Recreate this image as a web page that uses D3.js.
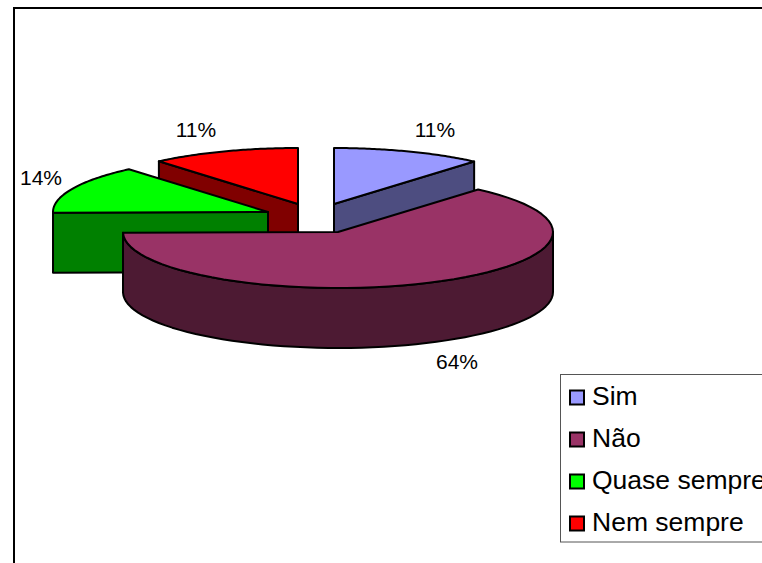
<!DOCTYPE html>
<html><head><meta charset="utf-8">
<style>html,body{margin:0;padding:0;background:#fff;overflow:hidden}svg{display:block}text{font-family:"Liberation Sans",Arial,sans-serif;fill:#000}</style>
<script src="https://cdn.jsdelivr.net/npm/d3@7/dist/d3.min.js"></script>
</head><body><svg id="c" width="762" height="563"></svg>
<script>
const categories = ["Sim","Não","Quase sempre","Nem sempre"];
const values = [11.3,63.5,14,11.2];
const percentLabels = ["11%","64%","14%","11%"];
const topColors = ["#9999FF","#993366","#00FF00","#FF0000"];
const sideColors = ["#4D4D80","#4D1A33","#008000","#800000"];
const apexes = [[334,204],[338,232],[268,212],[298,204]];
const labelAnchors = [[435,137],[457,369],[41,185],[196,137]];

const rx = 215, ry = 56, depth = 60;
const svg = d3.select("#c");
const arcs = d3.pie().sort(null).value(d=>d)(values);
const line = d3.line();
const pt = (i,a,dy=0)=>[apexes[i][0]+rx*Math.sin(a), apexes[i][1]-ry*Math.cos(a)+dy];
const sample = (i,a0,a1,dy=0)=>d3.range(61).map(k=>pt(i,a0+(a1-a0)*k/60,dy));
const shape = (pts,fill)=>svg.append("path").attr("d",line(pts)+"Z").attr("fill",fill)
  .attr("stroke","#000").attr("stroke-width",2).attr("stroke-linejoin","round");

// frame
svg.append("path").attr("d","M14,563V8H762").attr("fill","none").attr("stroke","#000").attr("stroke-width",2);

// wedges, back to front
[0,3,2,1].forEach(i=>{
  const {startAngle:a0,endAngle:a1} = arcs[i];
  const ax = apexes[i];
  const down = p=>[p[0],p[1]+depth];
  if(i===0){ const p=pt(i,a1); shape([ax,p,down(p),down(ax)],sideColors[i]); }
  if(i===3||i===2){ const p=pt(i,a0); shape([ax,p,down(p),down(ax)],sideColors[i]); }
  if(i===1){ // outer rim: front-facing part only
    const from=Math.PI/2;
    shape(sample(i,from,a1).concat(sample(i,from,a1,depth).reverse()),sideColors[i]);
  }
  shape([ax].concat(sample(i,a0,a1)),topColors[i]);
});

// percent labels
svg.selectAll("text.p").data(percentLabels).join("text").attr("class","p")
  .attr("x",(d,i)=>labelAnchors[i][0]).attr("y",(d,i)=>labelAnchors[i][1])
  .attr("text-anchor","middle").attr("font-size",21).text(d=>d);

// legend
const legendY = d3.scalePoint().domain(categories).range([405,531]);
svg.append("rect").attr("x",560.5).attr("y",374.5).attr("width",210).attr("height",167.5)
  .attr("fill","#fff").attr("stroke","#555").attr("stroke-width",1);
const g = svg.selectAll("g.l").data(categories).join("g").attr("class","l");
g.append("rect").attr("x",570).attr("y",d=>legendY(d)-14.5).attr("width",14).attr("height",14)
  .attr("fill",(d,i)=>topColors[i]).attr("stroke","#000").attr("stroke-width",2);
g.append("text").attr("x",592).attr("y",d=>legendY(d)).attr("font-size",26.5).text(d=>d);
</script></body></html>
